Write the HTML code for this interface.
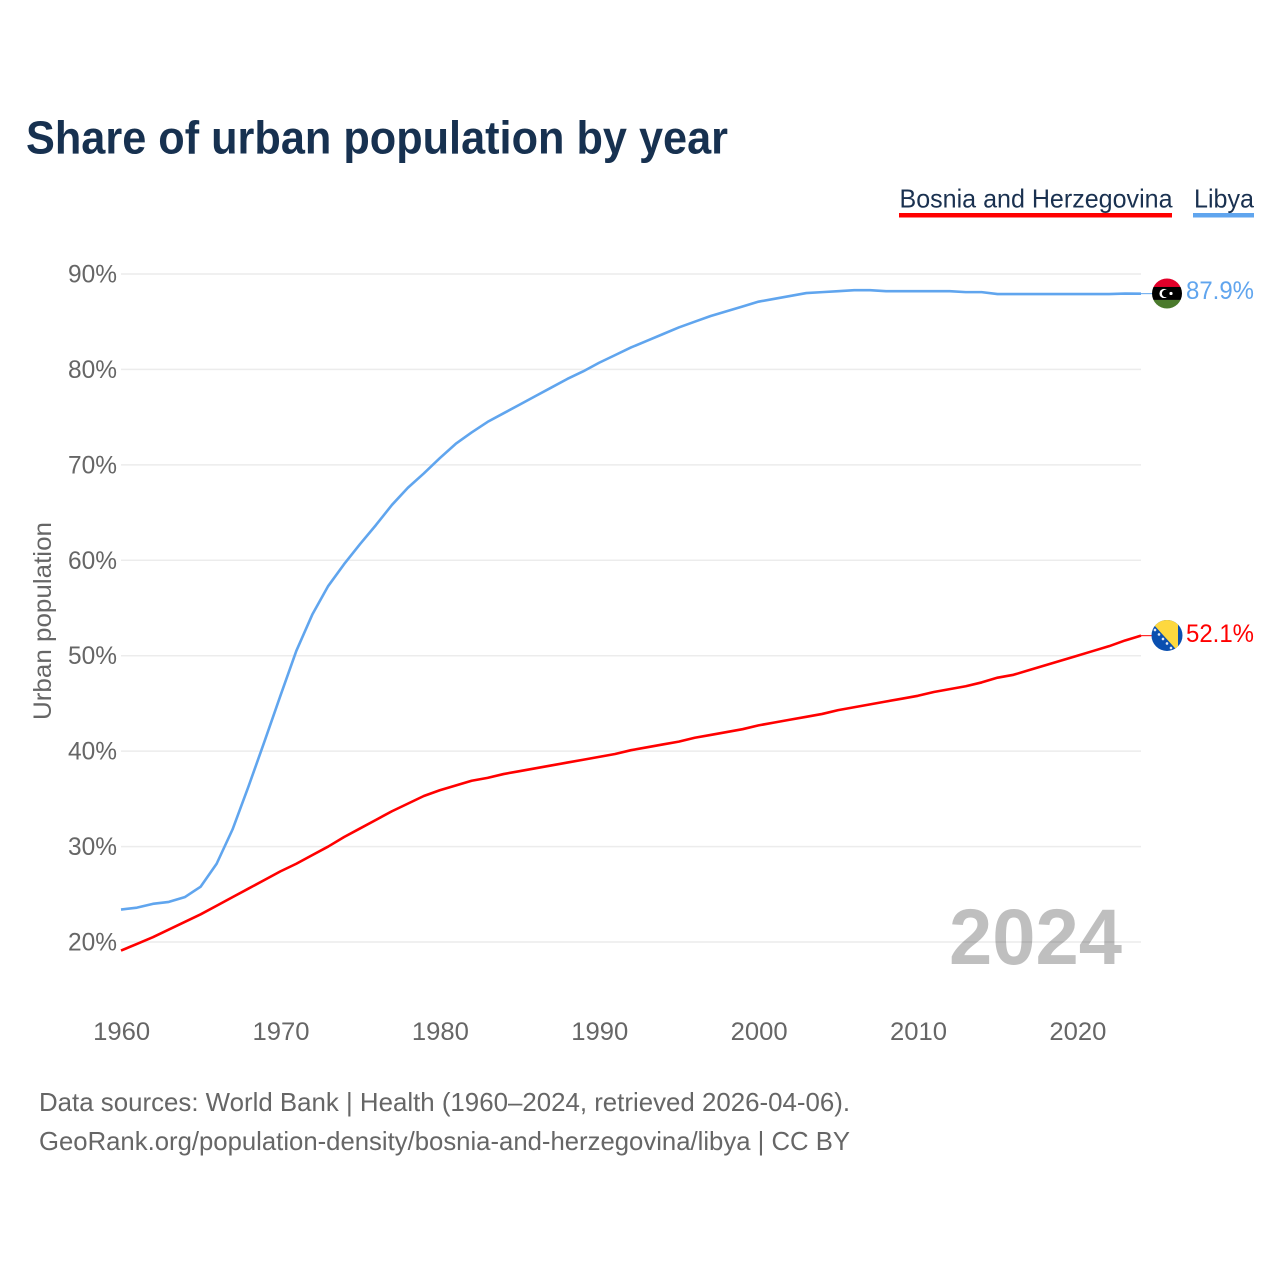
<!DOCTYPE html>
<html lang="en">
<head>
<meta charset="utf-8">
<title>Share of urban population by year</title>
<style>
html,body{margin:0;padding:0;background:#fff;width:1280px;height:1280px;overflow:hidden}
svg{display:block;font-family:"Liberation Sans",sans-serif}
</style>
</head>
<body>
<svg id="chart" width="1280" height="1280" viewBox="0 0 1280 1280">
  <defs>
    <clipPath id="clip-libya"><circle id="clip-libya-c" r="15"/></clipPath>
    <clipPath id="clip-bosnia"><circle id="clip-bosnia-c" r="15.5"/></clipPath>
  </defs>
  <rect width="1280" height="1280" fill="#fff"/>
  <text x="26" y="153.5" font-size="46" font-weight="700" fill="#173150" textLength="702" lengthAdjust="spacingAndGlyphs">Share of urban population by year</text>

  <g>
    <g>
      <text x="899.5" y="207.5" font-size="26" fill="#1a3150" textLength="273" lengthAdjust="spacingAndGlyphs">Bosnia and Herzegovina</text>
      <rect x="899" y="213" width="273" height="4.5" fill="#ff0000"/>
    </g>
    <g>
      <text x="1194" y="207.5" font-size="26" fill="#1a3150" textLength="60" lengthAdjust="spacingAndGlyphs">Libya</text>
      <rect x="1193" y="213" width="61" height="4.5" fill="#60a5ee"/>
    </g>
  </g>

  <g id="grid"></g>
  <g id="yticks"></g>
  <g id="xticks"></g>
  <text transform="translate(51,621) rotate(-90)" text-anchor="middle" font-size="25" fill="#666" textLength="198" lengthAdjust="spacingAndGlyphs">Urban population</text>

  <text x="1122" y="964" text-anchor="end" font-size="79" font-weight="700" fill="#000" fill-opacity="0.25" textLength="173" lengthAdjust="spacingAndGlyphs">2024</text>

  <g id="series"></g>

  <g id="flag-libya">
    <g clip-path="url(#clip-libya)">
      <rect x="-15" y="-15" width="30" height="9" fill="#e2002a"/>
      <rect x="-15" y="-6.5" width="30" height="13" fill="#000"/>
      <rect x="-15" y="6.5" width="30" height="9" fill="#4a7a2c"/>
      <circle cx="-3" cy="0" r="4.6" fill="#fff"/>
      <circle cx="-1.4" cy="0" r="3.7" fill="#000"/>
      <circle cx="4" cy="0" r="1.6" fill="#fff"/>
    </g>
  </g>
  <g id="flag-bosnia">
    <g clip-path="url(#clip-bosnia)">
      <rect x="-16" y="-16" width="32" height="32" fill="#0a4fb0"/>
      <polygon points="-18,-16 11,-16 11,16" fill="#fdd83f"/>
      <g fill="#dfe8f5">
        <circle cx="-12" cy="-5.5" r="1.3"/><circle cx="-8" cy="-1" r="1.3"/><circle cx="-4" cy="3.5" r="1.3"/><circle cx="0" cy="8" r="1.3"/><circle cx="4" cy="12.5" r="1.3"/>
      </g>
    </g>
  </g>

  <text id="value-libya" x="1186" y="299" font-size="25" fill="#60a5ee" textLength="68" lengthAdjust="spacingAndGlyphs"></text>
  <text id="value-bosnia" x="1186" y="642" font-size="25" fill="#ff0000" textLength="68" lengthAdjust="spacingAndGlyphs"></text>

  <g>
    <text x="39" y="1111" font-size="26" fill="#666" textLength="811" lengthAdjust="spacingAndGlyphs">Data sources: World Bank | Health (1960–2024, retrieved 2026-04-06).</text>
    <text x="39" y="1150" font-size="26" fill="#666" textLength="811" lengthAdjust="spacingAndGlyphs">GeoRank.org/population-density/bosnia-and-herzegovina/libya | CC BY</text>
  </g>
</svg>
<script>
const years = [1960,1961,1962,1963,1964,1965,1966,1967,1968,1969,1970,1971,1972,1973,1974,1975,1976,1977,1978,1979,1980,1981,1982,1983,1984,1985,1986,1987,1988,1989,1990,1991,1992,1993,1994,1995,1996,1997,1998,1999,2000,2001,2002,2003,2004,2005,2006,2007,2008,2009,2010,2011,2012,2013,2014,2015,2016,2017,2018,2019,2020,2021,2022,2023,2024];
const libyaValues = [23.4,23.6,24.0,24.2,24.7,25.8,28.2,31.8,36.3,41.0,45.8,50.5,54.3,57.3,59.6,61.7,63.7,65.8,67.6,69.1,70.7,72.2,73.4,74.5,75.4,76.3,77.2,78.1,79.0,79.8,80.7,81.5,82.3,83.0,83.7,84.4,85.0,85.6,86.1,86.6,87.1,87.4,87.7,88.0,88.1,88.2,88.3,88.3,88.2,88.2,88.2,88.2,88.2,88.1,88.1,87.9,87.9,87.9,87.9,87.9,87.9,87.9,87.9,87.95,87.94];
const bosniaValues = [19.1,19.8,20.5,21.3,22.1,22.9,23.8,24.7,25.6,26.5,27.4,28.2,29.1,30.0,31.0,31.9,32.8,33.7,34.5,35.3,35.9,36.4,36.9,37.2,37.6,37.9,38.2,38.5,38.8,39.1,39.4,39.7,40.1,40.4,40.7,41.0,41.4,41.7,42.0,42.3,42.7,43.0,43.3,43.6,43.9,44.3,44.6,44.9,45.2,45.5,45.8,46.2,46.5,46.8,47.2,47.7,48.0,48.5,49.0,49.5,50.0,50.5,51.0,51.6,52.1];
const yTickValues = [20,30,40,50,60,70,80,90];
const xTickValues = [1960,1970,1980,1990,2000,2010,2020];

const NS = 'http://www.w3.org/2000/svg';
const x = function (year) { return 121 + (year - 1960) * (1141 - 121) / 64; };
const y = function (value) { return 942 - (value - 20) * (942 - 274) / 70; };

function make(tag, attrs, parent) {
  const el = document.createElementNS(NS, tag);
  Object.keys(attrs).forEach(function (k) { el.setAttribute(k, attrs[k]); });
  parent.appendChild(el);
  return el;
}

const grid = document.getElementById('grid');
const yticks = document.getElementById('yticks');
const xticks = document.getElementById('xticks');
const series = document.getElementById('series');

yTickValues.forEach(function (v) {
  const line = make('line', {x1: 121, x2: 1141, y1: y(v), y2: y(v), stroke: '#ececec', 'stroke-width': 1.5}, grid);
  
  
  const label = make('text', {x: 117, y: y(v) + 8.5, 'text-anchor': 'end', 'font-size': 25, fill: '#666', textLength: 49, lengthAdjust: 'spacingAndGlyphs'}, yticks);
  label.textContent = v + '%';
  
  
});

xTickValues.forEach(function (t) {
  const label = make('text', {x: x(t) + 0.7, y: 1040, 'text-anchor': 'middle', 'font-size': 25, fill: '#666', textLength: 57, lengthAdjust: 'spacingAndGlyphs'}, xticks);
  label.textContent = String(t);
  
  
});

function drawSeries(values, color, key) {
  const d = values.map(function (v, i) {
    return (i ? 'L' : 'M') + x(years[i]).toFixed(2) + ' ' + y(v).toFixed(2);
  }).join(' ');
  const path = make('path', {d: d, fill: 'none', stroke: color, 'stroke-width': 2.6, 'stroke-linejoin': 'round'}, series);
  
  
  const endY = y(values[values.length - 1]);
  const leader = make('line', {x1: x(years[years.length - 1]), x2: 1153, y1: endY, y2: endY, stroke: color, 'stroke-width': 1}, series);
  
  
  return endY;
}

const libyaEnd = drawSeries(libyaValues, '#60a5ee', 'libya');
const bosniaEnd = drawSeries(bosniaValues, '#ff0000', 'bosnia');

function placeFlag(id, cy) {
  document.getElementById(id).setAttribute('transform', 'translate(1167,' + cy + ')');
}
placeFlag('flag-libya', libyaEnd - 0.2);
placeFlag('flag-bosnia', bosniaEnd - 0.2);

const libyaLabel = document.getElementById('value-libya');
libyaLabel.textContent = libyaValues[libyaValues.length - 1].toFixed(1) + '%';
libyaLabel.setAttribute('y', libyaEnd + 5.5);
const bosniaLabel = document.getElementById('value-bosnia');
bosniaLabel.textContent = bosniaValues[bosniaValues.length - 1].toFixed(1) + '%';
bosniaLabel.setAttribute('y', bosniaEnd + 6.5);
</script>
</body>
</html>
